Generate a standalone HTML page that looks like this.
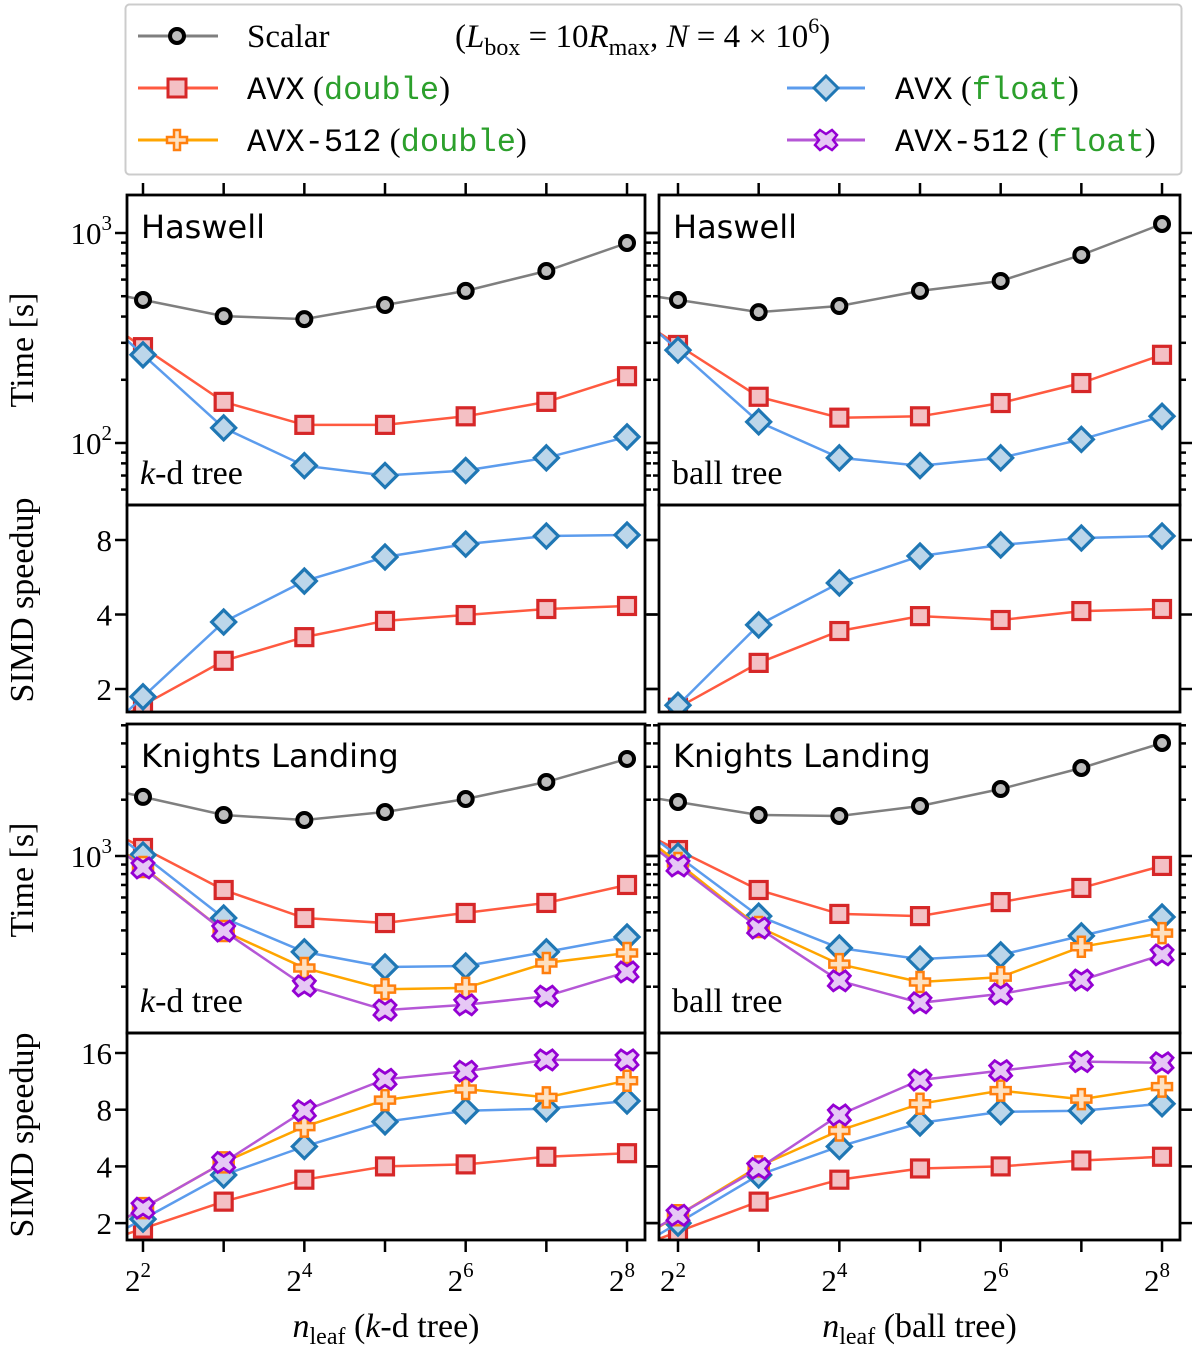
<!DOCTYPE html>
<html><head><meta charset="utf-8"><style>
html,body{margin:0;padding:0;background:#fff;}
svg{display:block;}
.serif{font-family:"Liberation Serif","DejaVu Serif",serif;}
.sans{font-family:"DejaVu Sans","Liberation Sans",sans-serif;}
.mono{font-family:"Liberation Mono","DejaVu Sans Mono",monospace;}
</style></head><body>
<svg id="fig" width="1200" height="1349" viewBox="0 0 1200 1349" xmlns="http://www.w3.org/2000/svg">
<g id="legend">
<rect x="125.5" y="4.5" width="1056" height="170" rx="4" fill="#fff" stroke="#cccccc" stroke-width="2"/>
<g>
<line x1="138" y1="36" x2="218" y2="36" stroke="#7f7f7f" stroke-width="3"/>
<circle cx="177" cy="36" r="7" fill="#bdbdbd" stroke="#000" stroke-width="4"/>
<text x="247" y="47" class="serif" font-size="33">Scalar</text>
<text x="455" y="47" class="serif" font-size="33">(<tspan font-style="italic">L</tspan><tspan font-size="24" dy="8">box</tspan><tspan dy="-8"> = 10</tspan><tspan font-style="italic">R</tspan><tspan font-size="24" dy="8">max</tspan><tspan dy="-8">, </tspan><tspan font-style="italic">N</tspan> = 4 × 10<tspan font-size="22" dy="-14">6</tspan><tspan dy="14">)</tspan></text>
</g>
<g>
<line x1="138" y1="88" x2="218" y2="88" stroke="#ff5a40" stroke-width="3"/>
<rect x="168" y="79" width="18" height="18" fill="#f4c0c4" stroke="#d62728" stroke-width="3"/>
<text x="247" y="99" font-size="33"><tspan class="mono" font-size="32">AVX</tspan><tspan class="serif"> (</tspan><tspan class="mono" font-size="32" fill="#2ca02c">double</tspan><tspan class="serif">)</tspan></text>
</g>
<g>
<line x1="138" y1="140" x2="218" y2="140" stroke="#ffa500" stroke-width="3"/>
<path d="M174,130h6v7h7v6h-7v7h-6v-7h-7v-6h7z" fill="#fde0c0" stroke="#ff7f0e" stroke-width="2.5"/>
<text x="247" y="151" font-size="33"><tspan class="mono" font-size="32">AVX-512</tspan><tspan class="serif"> (</tspan><tspan class="mono" font-size="32" fill="#2ca02c">double</tspan><tspan class="serif">)</tspan></text>
</g>
<g>
<line x1="787" y1="88" x2="865" y2="88" stroke="#5c9ced" stroke-width="3"/>
<path d="M826,76l12,12l-12,12l-12,-12z" fill="#bcd6ea" stroke="#1f77b4" stroke-width="3"/>
<text x="895" y="99" font-size="33"><tspan class="mono" font-size="32">AVX</tspan><tspan class="serif"> (</tspan><tspan class="mono" font-size="32" fill="#2ca02c">float</tspan><tspan class="serif">)</tspan></text>
</g>
<g>
<line x1="787" y1="140" x2="865" y2="140" stroke="#b557d6" stroke-width="3"/>
<path d="M820,130l6,4l6,-4l5,5l-4,5l4,5l-5,5l-6,-4l-6,4l-5,-5l4,-5l-4,-5z" fill="#e6c8f5" stroke="#9400d3" stroke-width="2.5"/>
<text x="895" y="151" font-size="33"><tspan class="mono" font-size="32">AVX-512</tspan><tspan class="serif"> (</tspan><tspan class="mono" font-size="32" fill="#2ca02c">float</tspan><tspan class="serif">)</tspan></text>
</g>
</g>
</svg>
<script>
// ---- data (x = log2 n_leaf) ----
const nleafExp = [2,3,4,5,6,7,8];
const xTickLabels = ["2","4","6","8"];
// Haswell times [s]
const hswKdScalar = [480,402,389,454,530,659,896];
const hswKdAvxD   = [286,157,122,122,134,157,208];
const hswKdAvxF   = [263,118,78,70,74,85,107];
const hswBallScalar = [480,420,449,530,591,786,1104];
const hswBallAvxD   = [293,166,132,134,155,193,263];
const hswBallAvxF   = [277,126,85,78,85,104,134];
// Haswell speedup
const hswKdSpAvxD = [1.72,2.60,3.24,3.77,3.98,4.21,4.33];
const hswKdSpAvxF = [1.86,3.73,5.46,6.83,7.70,8.30,8.38];
const hswBallSpAvxD = [1.68,2.55,3.43,3.94,3.80,4.13,4.21];
const hswBallSpAvxF = [1.72,3.63,5.36,6.89,7.64,8.15,8.30];
// KNL times [s]
const knlKdScalar = [2070,1656,1558,1719,2018,2489,3304];
const knlKdAvxD   = [1104,658,466,438,496,561,700];
const knlKdAvxF   = [1012,466,307,255,258,307,369];
const knlKd512D   = [873,397,252,194,197,268,303];
const knlKd512F   = [863,397,202,150,160,178,240];
const knlBallScalar = [1945,1656,1637,1850,2281,2955,4020];
const knlBallAvxD   = [1076,658,490,477,567,675,885];
const knlBallAvxF   = [1000,477,322,281,296,374,472];
const knlBall512D   = [918,417,264,212,225,327,387];
const knlBall512F   = [885,412,215,164,183,217,296];
// KNL speedup
const knlKdSpAvxD = [1.87,2.6,3.4,4.0,4.1,4.5,4.7];
const knlKdSpAvxF = [2.1,3.6,5.1,6.9,7.9,8.1,8.9];
const knlKdSp512D = [2.4,4.2,6.5,9.0,10.3,9.3,11.4];
const knlKdSp512F = [2.4,4.2,7.9,11.6,12.8,14.7,14.7];
const knlBallSpAvxD = [1.8,2.6,3.4,3.9,4.0,4.3,4.5];
const knlBallSpAvxF = [2.0,3.6,5.1,6.8,7.8,7.9,8.6];
const knlBallSp512D = [2.2,4.0,6.2,8.6,10.1,9.1,10.6];
const knlBallSp512F = [2.2,3.9,7.5,11.5,12.9,14.4,14.2];

const NS='http://www.w3.org/2000/svg';
const svg=document.getElementById('fig');
function E(tag,attrs,parent){const e=document.createElementNS(NS,tag);for(const k in attrs)e.setAttribute(k,attrs[k]);(parent||svg).appendChild(e);return e;}

const cols=[{x0:127,x1:645,xa:143,tree:'k-d tree',key:'kd'},{x0:659,x1:1180,xa:678,tree:'ball tree',key:'ball'}];
const STEP=80.67;
const rows=[
 {y0:195,y1:505,type:'log10',refV:3,refY:233,per:210,title:'Haswell'},
 {y0:505,y1:712,type:'log2',refV:3,refY:540,per:74.5},
 {y0:724,y1:1033,type:'log10',refV:3,refY:856,per:187,title:'Knights Landing'},
 {y0:1033,y1:1240,type:'log2',refV:4,refY:1053,per:56.7}
];
const STY={
 scalar:{line:'#7f7f7f',edge:'#000',fill:'#bdbdbd',m:'o'},
 avxD:{line:'#ff5a40',edge:'#d62728',fill:'#f4c0c4',m:'s'},
 avxF:{line:'#5c9ced',edge:'#1f77b4',fill:'#bcd6ea',m:'d'},
 d512:{line:'#ffa500',edge:'#ff7f0e',fill:'#fde0c0',m:'p'},
 f512:{line:'#b557d6',edge:'#9400d3',fill:'#e6c8f5',m:'x'}
};
const panelSeries=[
 [[['scalar',hswKdScalar],['avxD',hswKdAvxD],['avxF',hswKdAvxF]],
  [['scalar',hswBallScalar],['avxD',hswBallAvxD],['avxF',hswBallAvxF]]],
 [[['avxD',hswKdSpAvxD],['avxF',hswKdSpAvxF]],
  [['avxD',hswBallSpAvxD],['avxF',hswBallSpAvxF]]],
 [[['scalar',knlKdScalar],['avxD',knlKdAvxD],['avxF',knlKdAvxF],['d512',knlKd512D],['f512',knlKd512F]],
  [['scalar',knlBallScalar],['avxD',knlBallAvxD],['avxF',knlBallAvxF],['d512',knlBall512D],['f512',knlBall512F]]],
 [[['avxD',knlKdSpAvxD],['avxF',knlKdSpAvxF],['d512',knlKdSp512D],['f512',knlKdSp512F]],
  [['avxD',knlBallSpAvxD],['avxF',knlBallSpAvxF],['d512',knlBallSp512D],['f512',knlBallSp512F]]]
];
function xS(c,e){return c.xa+(e-2)*STEP;}
function yS(r,v){const l=r.type==='log10'?Math.log10(v):Math.log2(v);return r.refY-(l-r.refV)*r.per;}

function marker(g,kind,s,x,y){
 let el;
 if(kind==='o') el=E('circle',{cx:x,cy:y,r:7,fill:s.fill,stroke:s.edge,'stroke-width':4},g);
 else if(kind==='s') el=E('rect',{x:x-8.5,y:y-8.5,width:17,height:17,fill:s.fill,stroke:s.edge,'stroke-width':3.2},g);
 else if(kind==='d') el=E('path',{d:`M${x},${y-12}l12,12l-12,12l-12,-12z`,fill:s.fill,stroke:s.edge,'stroke-width':3.2},g);
 else if(kind==='p') el=E('path',{d:`M${x-3.5},${y-10}h7v6.5h6.5v7h-6.5v6.5h-7v-6.5h-6.5v-7h6.5z`,fill:s.fill,stroke:s.edge,'stroke-width':2.5},g);
 else el=E('path',{d:`M${x-6},${y-10}l6,4l6,-4l5,5l-4,5l4,5l-5,5l-6,-4l-6,4l-5,-5l4,-5l-4,-5z`,fill:s.fill,stroke:s.edge,'stroke-width':2.8},g);
 return el;
}

rows.forEach((r,ri)=>{cols.forEach((c,ci)=>{
 const g=E('g',{});
 
 
 const cid='clip'+ri+ci;
 const cp=E('clipPath',{id:cid},g);E('rect',{x:c.x0,y:r.y0,width:c.x1-c.x0,height:r.y1-r.y0},cp);
 const ticks=[];
 if(r.type==='log10'){
  for(let d=1;d<=4;d++)for(let m=1;m<=9;m++){const v=m*Math.pow(10,d);const y=yS(r,v);if(y>=r.y0&&y<=r.y1)ticks.push({y,major:m===1,v:d});}
 } else {
  for(let p=1;p<=4;p++){const y=yS(r,Math.pow(2,p));if(y>=r.y0&&y<=r.y1)ticks.push({y,major:true,v:Math.pow(2,p)});}
 }
 ticks.forEach(t=>{
  const L=t.major?12:6;
  const tl=E('line',{x1:c.x0-L,y1:t.y,x2:c.x0,y2:t.y,stroke:'#000','stroke-width':2.5},g);
  
  
  const tr=E('line',{x1:c.x1,y1:t.y,x2:c.x1+L,y2:t.y,stroke:'#000','stroke-width':2.5},g);
  
  
  if(t.major&&ci===0){
   const tx=E('text',{x:112,y:t.y+11,'text-anchor':'end','font-size':31,class:'serif'},g);
   
   
   if(r.type==='log10'){tx.textContent='10';const sp=E('tspan',{dy:-14,'font-size':21},tx);sp.textContent=String(t.v);}
   else tx.textContent=String(t.v);
  }
 });
 if(ri===0||ri===3){
  nleafExp.forEach(e=>{
   const x=xS(c,e);
   const ya=ri===0?r.y0-12:r.y1, yb=ri===0?r.y0:r.y1+12;
   const xt=E('line',{x1:x,y1:ya,x2:x,y2:yb,stroke:'#000','stroke-width':2.5},g);
   
   
  });
  if(ri===3){
   xTickLabels.forEach(lbl=>{
    const e=+lbl;const x=xS(c,e);
    const tx=E('text',{x:x-5,y:1291,'text-anchor':'middle','font-size':31,class:'serif'},g);
    
    
    tx.textContent='2';const sp=E('tspan',{dy:-14,'font-size':21},tx);sp.textContent=lbl;
   });
  }
 }
 const sg=E('g',{'clip-path':`url(#${cid})`},g);
 panelSeries[ri][ci].forEach(([key,vals])=>{
  const s=STY[key];
  const ser=E('g',{},sg);
  
  
  const pts=vals.map((v,i)=>[xS(c,nleafExp[i]),yS(r,v)]);
  const [xa,ya]=pts[0],[xb,yb]=pts[1];
  const ext=[c.x0-5,ya+(yb-ya)*(c.x0-5-xa)/(xb-xa)];
  const d='M'+[ext].concat(pts).map(p=>p[0].toFixed(1)+','+p[1].toFixed(1)).join('L');
  const ln=E('path',{d,fill:'none',stroke:s.line,'stroke-width':2.5},ser);
  
  
  pts.forEach(p=>{
   const m=marker(ser,s.m,s,p[0],p[1]);
   
   
  });
 });
 const fr=E('rect',{x:c.x0,y:r.y0,width:c.x1-c.x0,height:r.y1-r.y0,fill:'none',stroke:'#000','stroke-width':2.8},g);
 
 
 if(r.title){
  const t=E('text',{x:c.x0+14,y:r.y0+43,'font-size':32,class:'sans'},g);
  
  
  t.textContent=r.title;
  const tt=E('text',{x:c.x0+13,y:r.y1-21,'font-size':34,class:'serif'},g);
  
  
  if(c.key==='kd'){const k=E('tspan',{'font-style':'italic'},tt);k.textContent='k';const rr=E('tspan',{},tt);rr.textContent='-d tree';}
  else tt.textContent='ball tree';
 }
});});

[[350,'Time [s]'],[600,'SIMD speedup'],[880,'Time [s]'],[1135,'SIMD speedup']].forEach(([y,t])=>{
 const tx=E('text',{x:0,y:0,transform:`translate(33,${y}) rotate(-90)`,'text-anchor':'middle','font-size':34,class:'serif'});
 
 
 tx.textContent=t;
});
cols.forEach(c=>{
 const tx=E('text',{x:(c.x0+c.x1)/2,y:1337,'text-anchor':'middle','font-size':34,class:'serif'});
 
 
 const a=E('tspan',{'font-style':'italic'},tx);a.textContent='n';
 const b=E('tspan',{'font-size':24,dy:7},tx);b.textContent='leaf';
 const d=E('tspan',{dy:-7},tx);d.textContent=' (';
 if(c.key==='kd'){const k=E('tspan',{'font-style':'italic'},tx);k.textContent='k';const r2=E('tspan',{},tx);r2.textContent='-d tree)';}
 else {const r2=E('tspan',{},tx);r2.textContent='ball tree)';}
});
</script>
</body></html>
